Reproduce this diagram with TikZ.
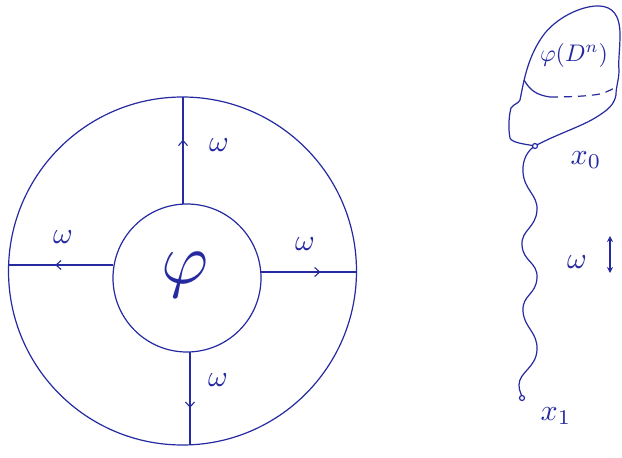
\documentclass[tikz,border=0pt]{standalone}
\usetikzlibrary{arrows.meta,decorations.markings}
\definecolor{ink}{RGB}{38,42,160}
\begin{document}
\begin{tikzpicture}[x=1pt,y=-1pt,
  ink/.style={draw=ink,line width=1.2pt},
  midarrow/.style={ink,postaction={decorate},decoration={markings,
    mark=at position #1 with {\arrow[ink,line width=1.1pt]{Straight Barb[length=5pt,width=9pt]}}}},
  lab/.style={text=ink,inner sep=0pt,scale=3}]
\useasboundingbox (0,0) rectangle (622,458);
\fill[white] (0,0) rectangle (622,458);
% circles
\node[circle,ink,minimum size=348pt,inner sep=0pt] (outer) at (182.5,271) {};
\node[circle,ink,minimum size=148pt,inner sep=0pt] (inner) at (187,278) {};
\node[lab,scale=2.4] (phi) at (185,275) {$\varphi$};
% spokes
\coordinate (tin) at (183,204);
\coordinate (tout) at (183,97);
\coordinate (lin) at (113,265);
\coordinate (lout) at (8,265);
\coordinate (rin) at (261,272);
\coordinate (rout) at (357,272);
\coordinate (bin) at (190,352);
\coordinate (bout) at (190,445);
\draw[midarrow=0.6] (tin) -- (tout);
\draw[midarrow=0.55] (lin) -- (lout);
\draw[midarrow=0.62] (rin) -- (rout);
\draw[midarrow=0.6] (bin) -- (bout);
\node[lab] (wt) at (219,145) {$\omega$};
\node[lab] (wl) at (63,237) {$\omega$};
\node[lab] (wr) at (305,244) {$\omega$};
\node[lab] (wb) at (218,380) {$\omega$};
% blob
\coordinate (x0) at (535,146);
\coordinate (x1) at (522,398);
\draw[ink] (x0) .. controls (525,144) and (512,143) .. (510,138)
  .. controls (508,128) and (509,115) .. (511,108)
  .. controls (515,103) and (518,104) .. (520,100)
  .. controls (524,80) and (528,55) .. (545,33)
  .. controls (560,15) and (585,5) .. (600,6)
  .. controls (612,7) and (620,14) .. (620,35)
  .. controls (620,50) and (618,62) .. (619,70)
  .. controls (619,80) and (616,86) .. (616,95)
  .. controls (614,105) and (608,110) .. (595,118)
  .. controls (580,127) and (555,135) .. (x0);
\draw[ink] (524,80) .. controls (530,90) and (536,95) .. (550,97);
\draw[ink,dash pattern=on 8pt off 6pt] (550,97) .. controls (570,97) and (590,96) .. (600,94)
  .. controls (608,92) and (614,88) .. (618,86);
\node[lab,scale=0.8] (phid) at (574,55) {$\varphi(D^n)$};
% wavy path
\draw[ink] (x0) .. controls (528,150) and (522,160) .. (523,172)
  .. controls (524,190) and (538,195) .. (537,210)
  .. controls (536,228) and (521,230) .. (522,245)
  .. controls (523,262) and (538,262) .. (537,278)
  .. controls (536,295) and (522,295) .. (523,311)
  .. controls (524,328) and (538,332) .. (537,350)
  .. controls (536,368) and (519,372) .. (519,385)
  .. controls (519,392) and (522,394) .. (x1);
\filldraw[ink,fill=white,line width=1.2pt] (x0) circle (2.5pt);
\filldraw[ink,fill=white,line width=1.2pt] (x1) circle (2.5pt);
\node[lab] (lx0) at (586,160) {$x_0$};
\node[lab] (lx1) at (556,416) {$x_1$};
\node[lab] (lw) at (577,262) {$\omega$};
\coordinate (da) at (610,236);
\coordinate (db) at (610,273);
\draw[ink,{Stealth[length=6pt,width=6pt]}-{Stealth[length=6pt,width=6pt]}] (da) -- (db);
\end{tikzpicture}
\end{document}
